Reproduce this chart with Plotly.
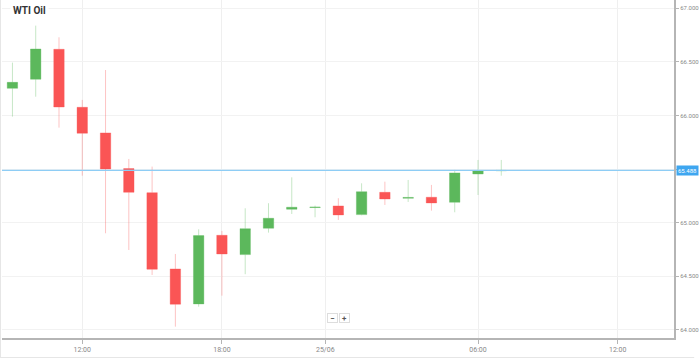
import plotly.graph_objects as go

# hourly candles (index positions on the x axis)
idx = list(range(22))
opens  = [66.254, 66.339, 66.618, 66.077, 65.838, 65.505, 65.281, 64.569, 64.243, 64.883, 64.703,
          64.949, 65.126, 65.142, 65.157, 65.076, 65.284, 65.228, 65.238, 65.191, 65.455, 65.485]
highs  = [66.494, 66.839, 66.730, 66.146, 66.425, 65.595, 65.524, 64.709, 64.939, 64.924, 65.135,
          65.182, 65.424, 65.160, 65.229, 65.368, 65.383, 65.399, 65.353, 65.493, 65.586, 65.586]
lows   = [65.990, 66.176, 65.887, 65.439, 64.902, 64.746, 64.513, 64.031, 64.217, 64.320, 64.520,
          64.908, 65.082, 65.051, 65.026, 65.070, 65.166, 65.194, 65.113, 65.098, 65.259, 65.439]
closes = [66.310, 66.621, 66.080, 65.835, 65.502, 65.284, 64.566, 64.240, 64.880, 64.709, 64.945,
          65.042, 65.145, 65.146, 65.073, 65.290, 65.222, 65.236, 65.185, 65.465, 65.486, 65.488]

x_tick_pos = [3, 9, 13.44, 20, 26]
x_tick_labels = ["12:00", "18:00", "25/06", "06:00", "12:00"]
y_ticks = [64.0, 64.5, 65.0, 65.5, 66.0, 66.5, 67.0]
y_tick_labels = ["64.000", "64.500", "65.000", "", "66.000", "66.500", "67.000"]
title = "WTI Oil"
last_price = closes[-1]

fig = go.Figure()
fig.add_trace(go.Candlestick(
    x=idx, open=opens, high=highs, low=lows, close=closes,
    increasing=dict(line=dict(color="rgba(92,184,92,0.35)", width=1), fillcolor="#5cb85c"),
    decreasing=dict(line=dict(color="rgba(250,85,85,0.35)", width=1), fillcolor="#fa5555"),
    whiskerwidth=0, showlegend=False, hoverinfo="skip",
))

fig.add_shape(type="line", xref="paper", x0=0, x1=1, yref="y", y0=last_price, y1=last_price,
              line=dict(color="#8ecdf5", width=1.2), layer="above")

# container borders
fig.add_shape(type="line", xref="paper", yref="paper", x0=-1.5/677, x1=-1.5/677, y0=-20/338, y1=1,
              line=dict(color="#e6e6e6", width=1))
fig.add_shape(type="line", xref="paper", yref="paper", x0=-2/677, x1=1.03, y0=-19.5/338, y1=-19.5/338,
              line=dict(color="#e6e6e6", width=1))

fig.add_annotation(xref="paper", yref="y", x=1.003, y=last_price, xanchor="left", yanchor="middle",
                   text="{:.3f}".format(last_price), showarrow=False,
                   font=dict(size=6, color="white", family="Roboto"),
                   bgcolor="#3ea6f0", borderpad=1)
fig.add_annotation(xref="paper", yref="paper", x=8/677, y=1 - 10/338, xanchor="left", yanchor="middle",
                   text="<b>" + title + "</b>", showarrow=False,
                   font=dict(size=10, color="#333333", family="Roboto"),
                   bgcolor="white", borderpad=2)
for txt, px in [("−", 335), ("+", 347)]:
    fig.add_annotation(xref="paper", yref="paper", x=(px - 2) / 677, y=20 / 338,
                       xanchor="center", yanchor="middle", text="<b>" + txt + "</b>", showarrow=False,
                       font=dict(size=8, color="#555555", family="Roboto"),
                       bgcolor="white", bordercolor="#dddddd", borderwidth=1, borderpad=0, width=9, height=8)

fig.update_layout(
    width=699, height=358,
    margin=dict(l=2, r=20, t=0, b=20),
    paper_bgcolor="white", plot_bgcolor="white",
    boxgap=0.36,
    xaxis=dict(range=[-0.448, 28.42], rangeslider=dict(visible=False), tickmode="array",
               tickvals=x_tick_pos, ticktext=x_tick_labels, showgrid=True, gridcolor="#efefef",
               gridwidth=1, zeroline=False, showline=True, linecolor="#b5b5b5", linewidth=2,
               ticks="outside", ticklen=4, tickcolor="#b5b5b5",
               tickfont=dict(size=7, color="#888888", family="Roboto")),
    yaxis=dict(range=[63.925, 67.078], side="right", tickmode="array", tickvals=y_ticks,
               ticktext=y_tick_labels, showgrid=True, gridcolor="#f2f2f2", zeroline=False,
               showline=True, linecolor="#b5b5b5", linewidth=2, ticks="outside", ticklen=3,
               tickcolor="#b5b5b5", tickfont=dict(size=6, color="#888888", family="Roboto")),
)
fig.write_html("out.html", config={"displayModeBar": False},
               post_script="document.body.style.margin='0';document.body.style.overflow='hidden';")
